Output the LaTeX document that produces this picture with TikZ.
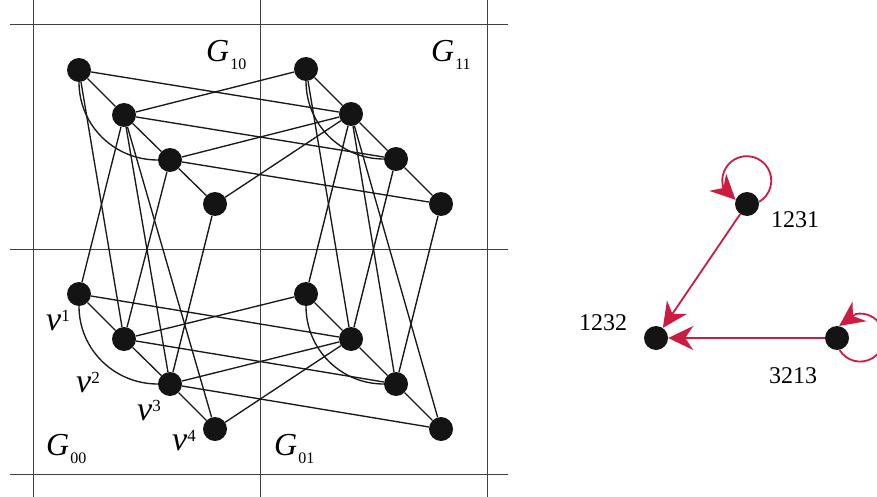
\documentclass[tikz,border=0pt]{standalone}
\usepackage{fontspec}
\setmainfont{Liberation Serif}
\usetikzlibrary{arrows.meta}
\definecolor{arrred}{RGB}{205,28,66}
\begin{document}
\begin{tikzpicture}[x=1pt,y=1pt,
  vtx/.style={circle,fill=black!92,inner sep=0pt,minimum size=24pt},
  gedge/.style={line width=1.35pt,black!90},
  gridl/.style={line width=0.9pt,black!75},
  rarr/.style={line width=1.8pt,arrred,-{Stealth[length=25pt,width=24pt,inset=8pt]}},
  glab/.style={anchor=base west,inner sep=0pt,font=\fontsize{32}{32}\selectfont\itshape},
  vlab/.style={anchor=base west,inner sep=0pt,font=\fontsize{34}{34}\selectfont\itshape},
  nlab/.style={anchor=base west,inner sep=0pt,font=\fontsize{24}{24}\selectfont}
]
\useasboundingbox (0,0) rectangle (877,-497);
% grid
\foreach \x in {33,260,487} \draw[gridl] (\x,0) -- (\x,-497);
\foreach \y in {24,249,474} \draw[gridl] (10,-\y) -- (508,-\y);
% vertices
\node[vtx] (a1) at (79,-70) {};
\node[vtx] (a2) at (124,-115) {};
\node[vtx] (a3) at (170,-160) {};
\node[vtx] (a4) at (215,-204) {};
\node[vtx] (b1) at (306,-69) {};
\node[vtx] (b2) at (351,-114) {};
\node[vtx] (b3) at (396,-159) {};
\node[vtx] (b4) at (441,-204) {};
\node[vtx] (c1) at (79,-294) {};
\node[vtx] (c2) at (124,-339) {};
\node[vtx] (c3) at (170,-384) {};
\node[vtx] (c4) at (215,-429) {};
\node[vtx] (d1) at (306,-294) {};
\node[vtx] (d2) at (351,-339) {};
\node[vtx] (d3) at (396,-384) {};
\node[vtx] (d4) at (441,-429) {};
% edges inside blocks
\foreach \p in {a,b,c,d} {
  \draw[gedge] (\p1) -- (\p2);
  \draw[gedge] (\p2) -- (\p3);
  \draw[gedge] (\p3) -- (\p4);
  \draw[gedge] (\p1) to[out=-90,in=180] (\p3);
}
% horizontal connections
\foreach \l/\r in {a/b,c/d} {
  \foreach \i/\j in {1/2,2/1,2/3,3/2,3/4,4/2}
    \draw[gedge] (\l\i) -- (\r\j);
}
% vertical connections
\foreach \t/\u in {a/c,b/d} {
  \foreach \i/\j in {1/2,2/1,2/3,2/4,3/2,4/3}
    \draw[gedge] (\t\i) -- (\u\j);
}
% block labels
\node[glab] (g10) at (206,-62) {G\kern1pt\raisebox{-8pt}{\upshape\fontsize{16}{16}\selectfont 10}};
\node[glab] (g11) at (431,-62) {G\kern1pt\raisebox{-8pt}{\upshape\fontsize{16}{16}\selectfont 11}};
\node[glab] (g00) at (46,-455) {G\kern1pt\raisebox{-8pt}{\upshape\fontsize{16}{16}\selectfont 00}};
\node[glab] (g01) at (274,-455) {G\kern1pt\raisebox{-8pt}{\upshape\fontsize{16}{16}\selectfont 01}};
% vertex labels
\node[vlab] (v1) at (46,-330) {v\raisebox{9pt}{\upshape\fontsize{17}{17}\selectfont 1}};
\node[vlab] (v2) at (76,-392) {v\raisebox{9pt}{\upshape\fontsize{17}{17}\selectfont 2}};
\node[vlab] (v3) at (137,-420) {v\raisebox{9pt}{\upshape\fontsize{17}{17}\selectfont 3}};
\node[vlab] (v4) at (172,-450) {v\raisebox{9pt}{\upshape\fontsize{17}{17}\selectfont 4}};
% right graph
\node[vtx] (r1231) at (747,-204) {};
\node[vtx] (r1232) at (656,-338) {};
\node[vtx] (r3213) at (837,-338) {};
\node[nlab] (l1231) at (771,-227) {1231};
\node[nlab] (l1232) at (579,-330) {1232};
\node[nlab] (l3213) at (769,-383) {3213};
\draw[rarr] (r1231) -- (r1232);
\draw[rarr] (r3213) -- (r1232);
\draw[rarr] (r1231.10) arc[start angle=-60,end angle=197,radius=24.5] -- (r1231.160);
\draw[rarr] (r3213.-78) arc[start angle=211,end angle=460,radius=24] -- (r3213.80);
\end{tikzpicture}
\end{document}
